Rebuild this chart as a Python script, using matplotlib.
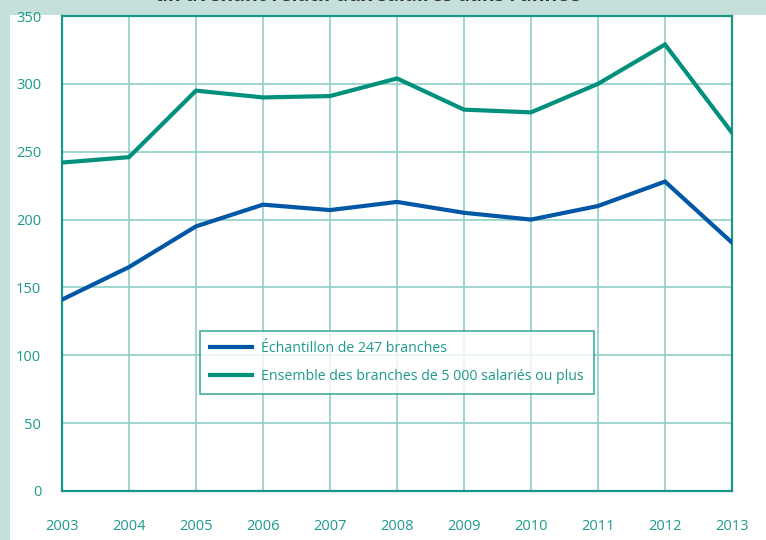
import matplotlib
matplotlib.use("Agg")
import matplotlib.pyplot as plt
from matplotlib.patches import Rectangle

years = [2003, 2004, 2005, 2006, 2007, 2008, 2009, 2010, 2011, 2012, 2013]
echantillon = [141, 165, 195, 211, 207, 213, 205, 200, 210, 228, 183]
ensemble = [242, 246, 295, 290, 291, 304, 281, 279, 300, 329, 264]
yticks = [0, 50, 100, 150, 200, 250, 300, 350]
label_blue = "Échantillon de 247 branches"
label_green = "Ensemble des branches de 5 000 salariés ou plus"
title = "un avenant relatif aux salaires dans l'année"

W, H = 766, 540
plt.rcParams['font.family'] = ['Open Sans', 'DejaVu Sans']
fig = plt.figure(figsize=(W / 100, H / 100), dpi=100)
fig.patch.set_facecolor("#C5E0DB")
fig.patches.append(Rectangle((10 / W, 0), 1 - 10 / W, (H - 15) / H,
                             transform=fig.transFigure, facecolor="white",
                             edgecolor="none", zorder=-10))

teal_text = "#1E9A8B"
grid_c = "#8FCFC6"
spine_c = "#1A9686"
blue = "#0057A6"
green = "#00907B"

ax = fig.add_axes([62 / W, (H - 491) / H, (732 - 62) / W, (491 - 16) / H])
ax.set_zorder(1)
ax.set_facecolor("white")
ax.plot(years, echantillon, color=blue, lw=3, label=label_blue, zorder=3,
        solid_joinstyle="miter")
ax.plot(years, ensemble, color=green, lw=3, label=label_green, zorder=3,
        solid_joinstyle="miter")
ax.set_xlim(2003, 2013)
ax.set_ylim(0, 350)
ax.set_xticks(years)
ax.set_yticks(yticks)
ax.grid(True, color=grid_c, lw=1.2)
ax.set_axisbelow(True)
for s in ax.spines.values():
    s.set_color(spine_c)
    s.set_linewidth(1.6)
ax.tick_params(length=0, colors=teal_text, labelsize=10.5)
ax.tick_params(axis='x', pad=20)
ax.tick_params(axis='y', pad=15)

leg = ax.legend(loc="lower left", bbox_to_anchor=(0.206, 0.204),
                frameon=True, fancybox=False, fontsize=10.2,
                labelcolor=teal_text, handlelength=3.0, handletextpad=0.6,
                borderpad=0.7, labelspacing=0.95, borderaxespad=0)
leg.get_frame().set_edgecolor(spine_c)
leg.get_frame().set_linewidth(1.2)

fig.text(368 / W, 1 - 1 / H, title, ha="center", va="baseline",
         fontsize=14, fontweight="bold", color="#333333")

fig.savefig("out.png", dpi=100, facecolor=fig.get_facecolor())
